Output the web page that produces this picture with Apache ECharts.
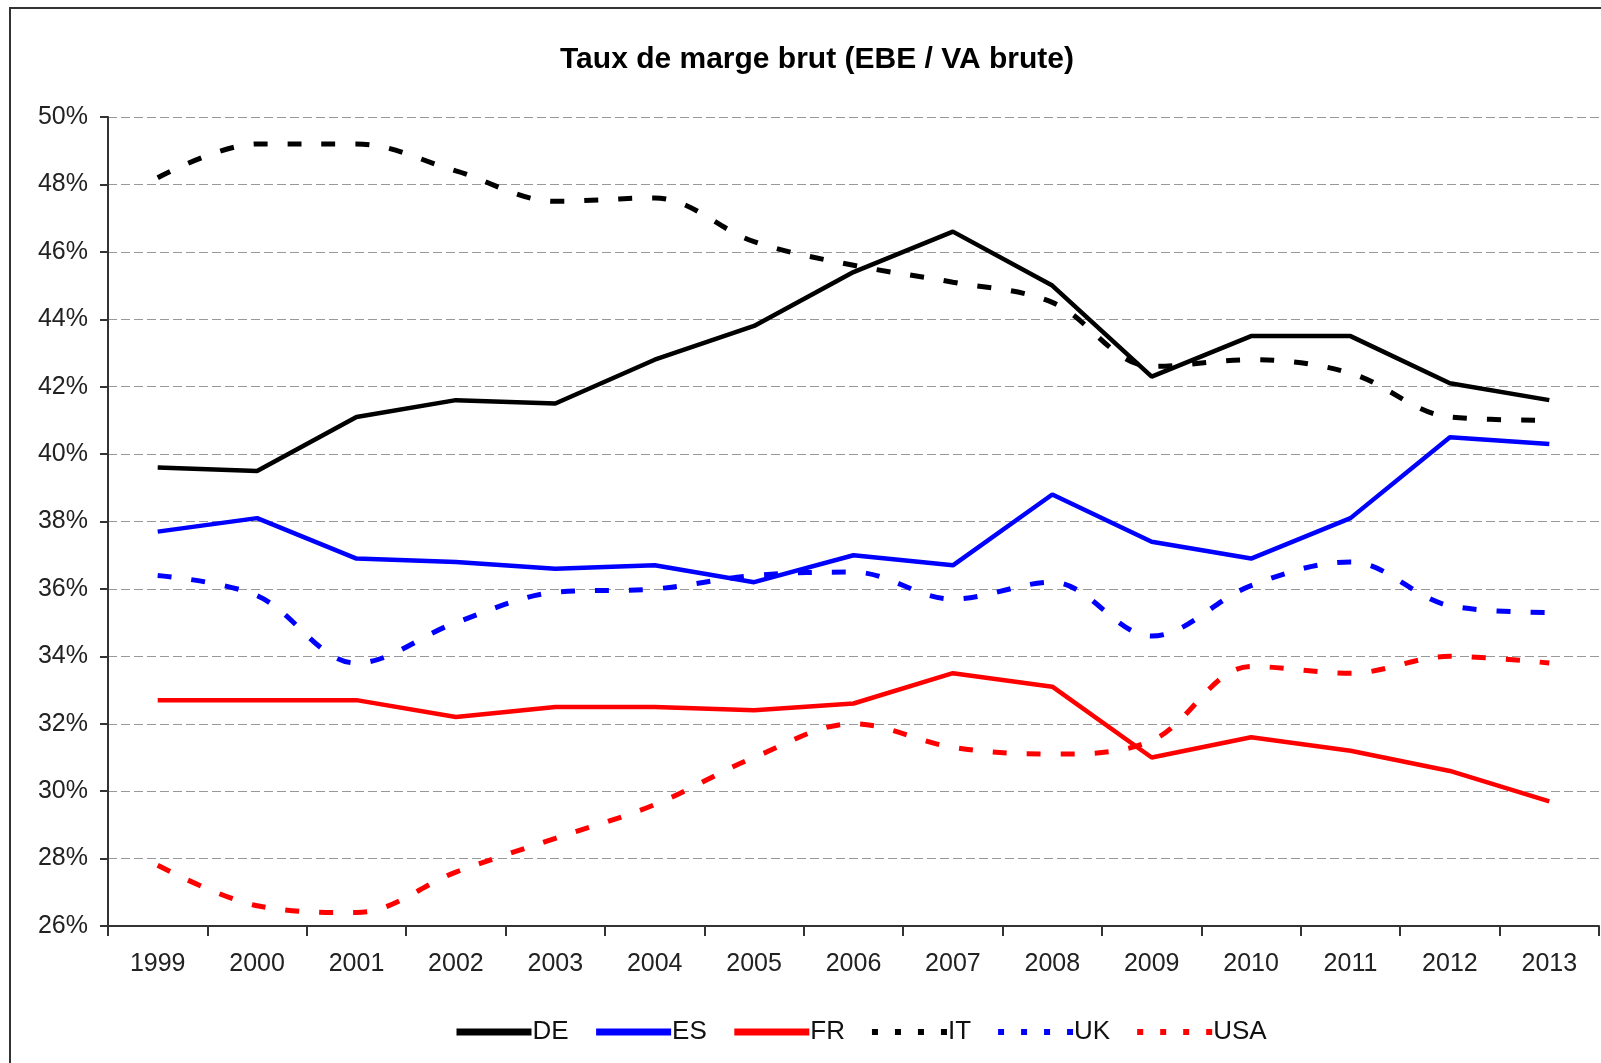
<!DOCTYPE html>
<html>
<head>
<meta charset="utf-8">
<title>Taux de marge brut</title>
<script src="https://cdn.jsdelivr.net/npm/echarts@6/dist/echarts.min.js"></script>
<style>
  html, body { margin: 0; padding: 0; background: #fff; }
  #chart { width: 1601px; height: 1063px; }
</style>
</head>
<body>
<div id="chart"></div>
<script>
const years = ['1999', '2000', '2001', '2002', '2003', '2004', '2005', '2006', '2007', '2008', '2009', '2010', '2011', '2012', '2013']

// taux de marge en %
const de = [39.6, 39.5, 41.1, 41.6, 41.5, 42.8, 43.8, 45.4, 46.6, 45.0, 42.3, 43.5, 43.5, 42.1, 41.6]
const es = [37.7, 38.1, 36.9, 36.8, 36.6, 36.7, 36.2, 37.0, 36.7, 38.8, 37.4, 36.9, 38.1, 40.5, 40.3]
const fr = [32.7, 32.7, 32.7, 32.2, 32.5, 32.5, 32.4, 32.6, 33.5, 33.1, 31.0, 31.6, 31.2, 30.6, 29.7]
const it = [48.2, 49.2, 49.2, 48.4, 47.5, 47.6, 46.3, 45.6, 45.1, 44.5, 42.6, 42.8, 42.4, 41.1, 41.0]
const uk = [36.4, 35.8, 33.8, 35.0, 35.9, 36.0, 36.4, 36.5, 35.7, 36.2, 34.6, 36.1, 36.8, 35.5, 35.3]
const usa = [27.8, 26.6, 26.4, 27.6, 28.6, 29.6, 31.0, 32.0, 31.3, 31.1, 31.5, 33.7, 33.5, 34.0, 33.8]

const font = 'Liberation Sans, Arial, sans-serif'

function solid(name, data, color) {
  return {
    name: name,
    type: 'line',
    data: data,
    symbol: 'none',
    itemStyle: { color: color },
    lineStyle: { color: color, width: 4.5 }
  }
}

function dashed(name, data, color) {
  return {
    name: name,
    type: 'line',
    data: data,
    symbol: 'none',
    smooth: 0.35,
    itemStyle: { color: color },
    lineStyle: { color: color, width: 5, type: [14, 20], cap: 'butt' }
  }
}

const chart = echarts.init(document.getElementById('chart'))
chart.setOption({
  animation: false,
  backgroundColor: '#fff',
  title: {
    text: 'Taux de marge brut (EBE / VA brute)',
    left: 812,
    top: 40,
    textAlign: 'center',
    textStyle: { fontFamily: font, fontSize: 30, fontWeight: 'bold', color: '#000' }
  },
  graphic: [{
    type: 'rect',
    shape: { x: 10, y: 8, width: 1700, height: 1200 },
    style: { fill: 'none', stroke: '#333', lineWidth: 2 },
    silent: true
  }],
  grid: { left: 108, right: 2, top: 117, bottom: 137 },
  legend: {
    left: 448,
    top: 1014,
    itemWidth: 75,
    itemHeight: 14,
    itemGap: 24,
    itemStyle: { opacity: 0 },
    textStyle: { fontFamily: font, fontSize: 26, color: '#111', padding: [0, 0, 0, -4] },
    data: ['DE', 'ES', 'FR', 'IT', 'UK', 'USA'].map(function (n, i) {
      return i < 3
        ? { name: n, lineStyle: { width: 7 } }
        : { name: n, lineStyle: { width: 6, type: [6, 17] } }
    })
  },
  xAxis: {
    type: 'category',
    data: years,
    boundaryGap: true,
    axisLine: { lineStyle: { color: '#333', width: 2 } },
    axisTick: { show: true, length: 10, lineStyle: { color: '#333', width: 2 } },
    axisLabel: { fontFamily: font, fontSize: 25, color: '#222', margin: 26 },
    splitLine: { show: false }
  },
  yAxis: {
    type: 'value',
    min: 26,
    max: 50,
    interval: 2,
    axisLine: { show: true, lineStyle: { color: '#333', width: 2 } },
    axisTick: { show: true, length: 8, lineStyle: { color: '#333', width: 2 } },
    axisLabel: { fontFamily: font, fontSize: 25, color: '#222', margin: 20, formatter: '{value}%' },
    splitLine: { show: true, lineStyle: { color: '#999', width: 1, type: [9, 4] } }
  },
  series: [
    dashed('IT', it, '#000'),
    dashed('UK', uk, '#0000ff'),
    dashed('USA', usa, '#ff0000'),
    solid('DE', de, '#000'),
    solid('ES', es, '#0000ff'),
    solid('FR', fr, '#ff0000')
  ]
})
</script>
</body>
</html>
